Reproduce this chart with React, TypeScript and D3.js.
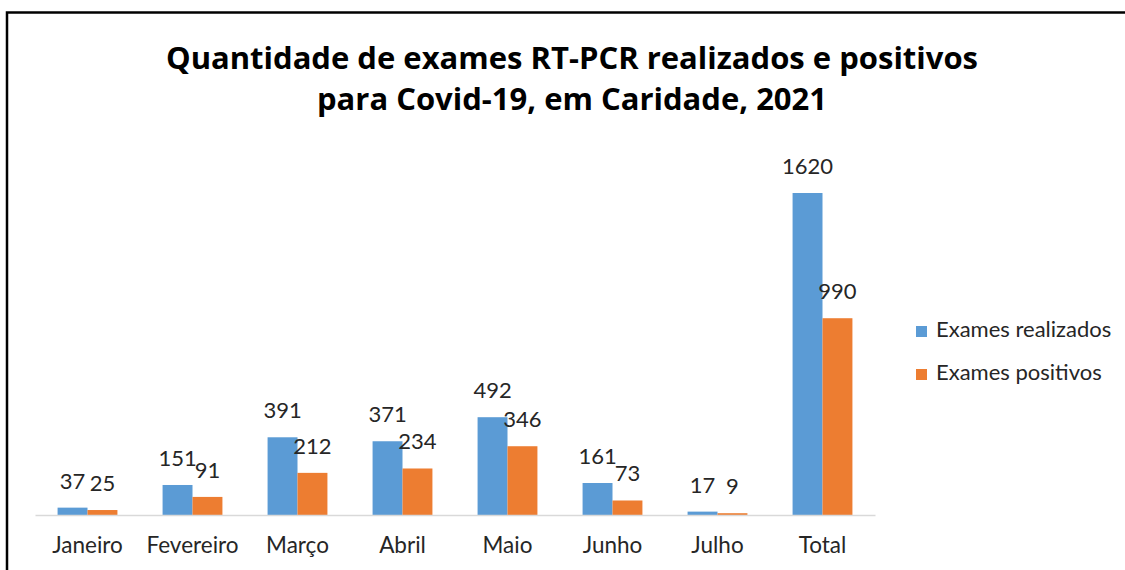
import React from 'react';
import * as d3 from 'd3';

const months = ['Janeiro', 'Fevereiro', 'Março', 'Abril', 'Maio', 'Junho', 'Julho', 'Total'];
const realizados = [37, 151, 391, 371, 492, 161, 17, 1620];
const positivos = [25, 91, 212, 234, 346, 73, 9, 990];
const seriesNames = ['Exames realizados', 'Exames positivos'];
const seriesColors = ['#5B9BD5', '#ED7D31'];
const titleLines = ['Quantidade de exames RT-PCR realizados e positivos', 'para Covid-19, em Caridade, 2021'];

const FONT = 'Lato, "Open Sans", sans-serif';

export default class App extends React.Component {
  svgRef = React.createRef<SVGSVGElement>();

  sizing = {
    width: 1125,
    height: 570,
    left: 35,
    right: 875,
    top: 193,
    bottom: 515,
  };

  setupDom(): void {
    const svgNode = this.svgRef.current;
    if (!svgNode) return;
    const svg = d3.select(svgNode);
    svg.selectAll('*').remove();
    const {width, height, left, right, top, bottom} = this.sizing;

    // frame of the chart, only top and left edges are visible in the crop
    svg.append('path')
      .attr('d', `M7,${height} V12.5 H${width}`)
      .attr('fill', 'none')
      .attr('stroke', '#000')
      .attr('stroke-width', 2.5);

    svg.append('text')
      .attr('x', 572)
      .attr('text-anchor', 'middle')
      .attr('font-family', '"Open Sans", sans-serif')
      .attr('font-weight', 700)
      .attr('font-size', 31)
      .attr('fill', '#000')
      .selectAll('tspan')
      .data(titleLines)
      .enter().append('tspan')
      .attr('x', 572)
      .attr('y', (d, i) => 69 + i * 41)
      .text(d => d);

    const x0 = d3.scaleBand().domain(months).range([left, right]).paddingInner(0.43).paddingOuter(0.215);
    const x1 = d3.scaleBand().domain(seriesNames).range([0, x0.bandwidth()]);
    const y = d3.scaleLinear().domain([0, d3.max(realizados) as number]).range([bottom, top]);

    const rows = months.map((m, i) => ({month: m, values: [realizados[i], positivos[i]]}));

    const groups = svg.append('g')
      .selectAll('g')
      .data(rows)
      .enter().append('g')
      .attr('transform', d => `translate(${x0(d.month)},0)`);

    groups.selectAll('rect')
      .data(d => d.values.map((v, i) => ({v, name: seriesNames[i], color: seriesColors[i]})))
      .enter().append('rect')
      .attr('x', d => x1(d.name) as number)
      .attr('width', x1.bandwidth())
      .attr('y', d => y(d.v))
      .attr('height', d => bottom - y(d.v))
      .attr('fill', d => d.color);

    groups.selectAll('text')
      .data(d => d.values.map((v, i) => ({v, name: seriesNames[i]})))
      .enter().append('text')
      .attr('x', d => (x1(d.name) as number) + x1.bandwidth() / 2)
      .attr('y', d => y(d.v) - 19)
      .attr('text-anchor', 'middle')
      .attr('font-family', FONT)
      .attr('font-size', 22)
      .attr('fill', '#262626')
      .text(d => d.v);

    const axis = svg.append('g')
      .attr('transform', `translate(0,${bottom})`)
      .call(d3.axisBottom(x0).tickSize(0).tickPadding(22));
    axis.select('.domain').attr('stroke', '#D9D9D9').attr('stroke-width', 1.5);
    axis.selectAll('text')
      .attr('font-family', FONT)
      .attr('font-size', 22.5)
      .attr('fill', '#262626');

    const legend = svg.append('g')
      .selectAll('g')
      .data(seriesNames)
      .enter().append('g')
      .attr('transform', (d, i) => `translate(916,${326 + i * 43})`);
    legend.append('rect')
      .attr('width', 11)
      .attr('height', 11)
      .attr('fill', (d, i) => seriesColors[i]);
    legend.append('text')
      .attr('x', 20)
      .attr('y', 11)
      .attr('font-family', FONT)
      .attr('font-size', 22)
      .attr('fill', '#262626')
      .text(d => d);
  }

  componentDidMount(): void {
    this.setupDom();
  }

  render(): React.ReactNode {
    return (
      <svg
        ref={this.svgRef}
        width={this.sizing.width}
        height={this.sizing.height}
        style={{position: 'absolute', left: 0, top: 0, background: '#fff'}}
      />
    );
  }
}
